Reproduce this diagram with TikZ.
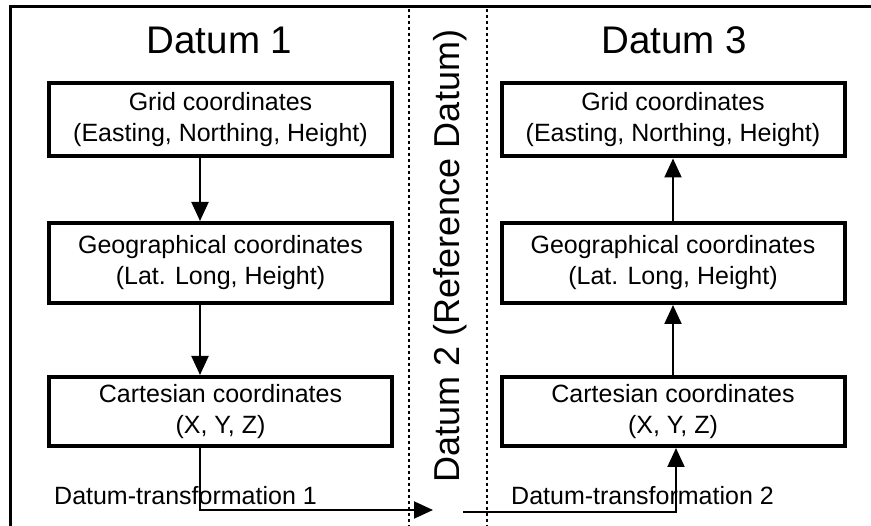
\documentclass[tikz,border=0pt]{standalone}
\usepackage{fontspec}
\setmainfont{Liberation Sans}
\usetikzlibrary{arrows.meta}
\begin{document}
\begin{tikzpicture}[x=1pt,y=-1pt,
  box/.style={draw,line width=4pt,minimum width=343pt,inner sep=0pt,align=center,font=\fontsize{25}{31}\selectfont},
  title/.style={font=\fontsize{38.5}{42}\selectfont,inner sep=0pt},
  lbl/.style={font=\fontsize{25}{30}\selectfont,inner sep=0pt},
  arr/.style={line width=2pt,-{Triangle[length=19pt,width=17pt]}},
  sep/.style={line width=2pt,dash pattern=on 3pt off 3pt},
  frame/.style={line width=3pt}]
\useasboundingbox (0,0) rectangle (871,526);
\fill[white] (0,0) rectangle (871,526);
\draw[frame] (871,7) -- (10,7) -- (10,526);
\coordinate (d1t) at (409,9);
\coordinate (d1b) at (409,526);
\coordinate (d2t) at (487,9);
\coordinate (d2b) at (487,526);
\draw[sep] (d1t) -- (d1b);
\draw[sep,line width=2.5pt] (d2t) -- (d2b);
\node[title] (t1) at (219.5,40) {Datum 1};
\node[title] (t3) at (674,40) {Datum 3};
\node[title,rotate=90,font=\fontsize{36}{40}\selectfont] (t2) at (450,256) {Datum 2 (Reference Datum)};
\node[box,minimum height=73pt] (L1) at (220.5,120) {Grid coordinates\\(Easting, Northing, Height)};
\node[box,minimum height=80pt] (L2) at (220.5,263) {Geographical coordinates\\(Lat. Long, Height)};
\node[box,minimum height=69pt] (L3) at (220.5,411.5) {Cartesian coordinates\\(X, Y, Z)};
\node[box,minimum height=73pt] (R1) at (673,120) {Grid coordinates\\(Easting, Northing, Height)};
\node[box,minimum height=80pt] (R2) at (673,263) {Geographical coordinates\\(Lat. Long, Height)};
\node[box,minimum height=69pt] (R3) at (673,411.5) {Cartesian coordinates\\(X, Y, Z)};
\coordinate (ax) at (200,0);
\coordinate (bx) at (673,0);
\coordinate (cx) at (676,0);
\draw[arr] (L1.south -| ax) -- (L2.north -| ax);
\draw[arr] (L2.south -| ax) -- (L3.north -| ax);
\draw[arr] (R2.north -| bx) -- (R1.south -| bx);
\draw[arr] (R3.north -| bx) -- (R2.south -| bx);
\coordinate (e1) at (433,510);
\coordinate (s2) at (463,512);
\draw[arr] (L3.south -| ax) |- (e1);
\draw[arr] (s2) -| (R3.south -| cx);
\node[lbl,anchor=base west] (m1) at (54,505) {Datum-transformation 1};
\node[lbl,anchor=base west] (m2) at (511,505) {Datum-transformation 2};
\end{tikzpicture}
\end{document}
